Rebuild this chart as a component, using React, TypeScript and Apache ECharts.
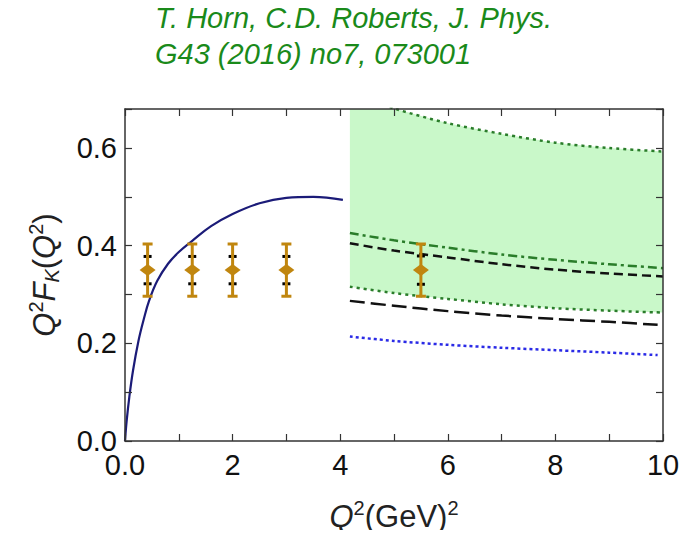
import React, { useEffect, useRef } from "react";
import * as echarts from "echarts";

// Navy model curve (solid)
const curveX = [0, 0.03, 0.08, 0.15, 0.25, 0.35, 0.45, 0.6, 0.8, 1.0, 1.25, 1.6, 2.0, 2.5, 3.0, 3.5, 4.05];
const curveY = [0, 0.04, 0.09, 0.145, 0.205, 0.25, 0.288, 0.328, 0.363, 0.387, 0.41, 0.44, 0.465, 0.487, 0.498, 0.5, 0.494];

// Right-hand curves (Q^2 > 4)
const bandX = [4.18, 5, 6, 7, 8, 9, 10];
const upperDotted = [0.712, 0.681, 0.651, 0.629, 0.611, 0.6, 0.593];
const lowerDotted = [0.316, 0.303, 0.291, 0.28, 0.272, 0.267, 0.263];
const dashDotGreen = [0.426, 0.411, 0.396, 0.382, 0.371, 0.362, 0.354];
const dashedBlack = [0.405, 0.39, 0.376, 0.362, 0.351, 0.343, 0.337];
const shortX = [4.18, 5, 6, 7, 8, 9, 9.9];
const longDashBlack = [0.287, 0.277, 0.266, 0.257, 0.25, 0.244, 0.238];
const blueDotted = [0.214, 0.205, 0.197, 0.191, 0.186, 0.181, 0.176];

// Projected data points
const ptX = [0.42, 1.25, 2.0, 3.0, 5.5];
const ptY = [0.35, 0.35, 0.35, 0.35, 0.35];
const errOuter = [0.0535, 0.0535, 0.0535, 0.0535, 0.0535];
const errInner = [0.028, 0.028, 0.028, 0.028, 0.029];

const FONT = "'Liberation Sans', Arial, Helvetica, sans-serif";
const ORANGE = "#c0860f";
const DGREEN = "#2a7d2a";

const pairs = (xs: number[], ys: number[]) => xs.map((x, i) => [x, ys[i]]);

export default function App() {
  const ref = useRef<HTMLDivElement>(null);
  useEffect(() => {
    if (!ref.current) return;
    const chart = echarts.init(ref.current, null, { renderer: "svg" });

    const axisLine = { show: true, onZero: false, lineStyle: { color: "#333", width: 1.5 } };
    const axisTick = { show: true, inside: true, length: 7, lineStyle: { color: "#333", width: 1.2 } };

    const nameRich = {
      qi: { fontSize: 31, fontStyle: "italic", fontFamily: FONT, color: "#222", lineHeight: 36 },
      n: { fontSize: 31, fontFamily: FONT, color: "#222", lineHeight: 36 },
      sup: { fontSize: 20, fontFamily: FONT, color: "#222", verticalAlign: "top", lineHeight: 24 },
      sub: { fontSize: 20, fontStyle: "italic", fontFamily: FONT, color: "#222", verticalAlign: "bottom", lineHeight: 22 },
    };

    const option: any = {
      animation: false,
      backgroundColor: "#fff",
      title: {
        text: "T. Horn, C.D. Roberts, J. Phys.\nG43 (2016) no7, 073001",
        left: 155,
        top: 0,
        padding: 0,
        textStyle: {
          fontFamily: FONT,
          fontStyle: "italic",
          fontWeight: "normal",
          fontSize: 29,
          lineHeight: 36,
          color: "#1a8a1a",
        },
      },
      grid: { left: 125, right: 29, top: 109, bottom: 97, containLabel: false },
      xAxis: [
        {
          type: "value",
          position: "bottom",
          min: 0,
          max: 10,
          interval: 1,
          z: 5,
          axisLine,
          axisTick,
          splitLine: { show: false },
          axisLabel: {
            fontFamily: FONT,
            fontSize: 29,
            color: "#111",
            margin: 9,
            formatter: (v: number) => (v === 0 ? "0.0" : Math.round(v) % 2 === 0 ? String(Math.round(v)) : ""),
          },
          name: "{qi|Q}{sup|2}{n|(GeV)}{sup|2}",
          nameLocation: "middle",
          nameGap: 57,
          nameTextStyle: { rich: nameRich },
        },
        {
          type: "value",
          position: "top",
          min: 0,
          max: 10,
          interval: 1,
          z: 5,
          axisLine,
          axisTick,
          splitLine: { show: false },
          axisLabel: { show: false },
        },
      ],
      yAxis: [
        {
          type: "value",
          position: "left",
          min: 0,
          max: 0.68,
          interval: 0.1,
          z: 5,
          axisLine,
          axisTick,
          splitLine: { show: false },
          axisLabel: {
            fontFamily: FONT,
            fontSize: 29,
            color: "#111",
            margin: 8,
            formatter: (v: number) => {
              const r = Math.round(v * 10);
              if (Math.abs(v * 10 - r) > 1e-6) return "";
              return r % 2 === 0 ? (r / 10).toFixed(1) : "";
            },
          },
          name: "{qi|Q}{sup|2}{qi|F}{sub|K}{n|(}{qi|Q}{sup|2}{n|)}",
          nameLocation: "middle",
          nameGap: 63,
          nameRotate: 90,
          nameTextStyle: { rich: nameRich },
        },
        {
          type: "value",
          position: "right",
          min: 0,
          max: 0.68,
          interval: 0.1,
          z: 5,
          axisLine,
          axisTick,
          splitLine: { show: false },
          axisLabel: { show: false },
        },
      ],
      series: [
        {
          type: "custom",
          name: "band",
          clip: true,
          silent: true,
          z: 1,
          data: [0],
          renderItem: (params: any, api: any) => {
            const top = bandX.map((x, i) => api.coord([x, upperDotted[i]]));
            const bot = bandX.map((x, i) => api.coord([x, lowerDotted[i]])).reverse();
            return {
              type: "polygon",
              shape: { points: top.concat(bot), smooth: 0 },
              style: { fill: "#c9f8c9" },
            };
          },
        },
        {
          type: "line",
          name: "upperDotted",
          data: pairs(bandX, upperDotted),
          smooth: 0.3,
          symbol: "none",
          lineStyle: { color: DGREEN, width: 2.5, type: [3, 4] },
          z: 3,
        },
        {
          type: "line",
          name: "lowerDotted",
          data: pairs(bandX, lowerDotted),
          smooth: 0.3,
          symbol: "none",
          lineStyle: { color: DGREEN, width: 2.5, type: [3, 4] },
          z: 3,
        },
        {
          type: "line",
          name: "dashDotGreen",
          data: pairs(bandX, dashDotGreen),
          smooth: 0.3,
          symbol: "none",
          lineStyle: { color: DGREEN, width: 2.5, type: [9, 4, 3, 4] },
          z: 3,
        },
        {
          type: "line",
          name: "dashedBlack",
          data: pairs(bandX, dashedBlack),
          smooth: 0.3,
          symbol: "none",
          lineStyle: { color: "#111", width: 2.5, type: [9, 5] },
          z: 3,
        },
        {
          type: "line",
          name: "longDashBlack",
          data: pairs(shortX, longDashBlack),
          smooth: 0.3,
          symbol: "none",
          lineStyle: { color: "#111", width: 2.5, type: [15, 6] },
          z: 3,
        },
        {
          type: "line",
          name: "blueDotted",
          data: pairs(shortX, blueDotted),
          smooth: 0.3,
          symbol: "none",
          lineStyle: { color: "#2a2ae6", width: 2.5, type: [3, 3] },
          z: 3,
        },
        {
          type: "line",
          name: "curve",
          data: pairs(curveX, curveY),
          smooth: 0.4,
          symbol: "none",
          lineStyle: { color: "#1b1b78", width: 2.2 },
          z: 3,
        },
        {
          type: "custom",
          name: "points",
          data: ptX.map((x, i) => [x, ptY[i], errOuter[i], errInner[i]]),
          encode: { x: 0, y: 1 },
          z: 4,
          renderItem: (params: any, api: any) => {
            const x = api.value(0);
            const y = api.value(1);
            const eo = api.value(2);
            const ei = api.value(3);
            const c = api.coord([x, y]);
            const t = api.coord([x, y + eo]);
            const b = api.coord([x, y - eo]);
            const ti = api.coord([x, y + ei]);
            const bi = api.coord([x, y - ei]);
            return {
              type: "group",
              children: [
                { type: "line", shape: { x1: c[0] - 4, y1: ti[1], x2: c[0] + 4, y2: ti[1] }, style: { stroke: "#000", lineWidth: 3 } },
                { type: "line", shape: { x1: c[0] - 4, y1: bi[1], x2: c[0] + 4, y2: bi[1] }, style: { stroke: "#000", lineWidth: 3 } },
                { type: "line", shape: { x1: c[0], y1: t[1], x2: c[0], y2: b[1] }, style: { stroke: ORANGE, lineWidth: 3 } },
                { type: "line", shape: { x1: c[0] - 5, y1: t[1], x2: c[0] + 5, y2: t[1] }, style: { stroke: ORANGE, lineWidth: 3 } },
                { type: "line", shape: { x1: c[0] - 5, y1: b[1], x2: c[0] + 5, y2: b[1] }, style: { stroke: ORANGE, lineWidth: 3 } },
                {
                  type: "polygon",
                  shape: { points: [[c[0] - 8, c[1]], [c[0], c[1] - 6], [c[0] + 8, c[1]], [c[0], c[1] + 6]] },
                  style: { fill: ORANGE },
                },
              ],
            };
          },
        },
      ],
    };

    chart.setOption(option);
    return () => chart.dispose();
  }, []);

  return <div ref={ref} style={{ width: 692, height: 538, margin: -8 }} />;
}
